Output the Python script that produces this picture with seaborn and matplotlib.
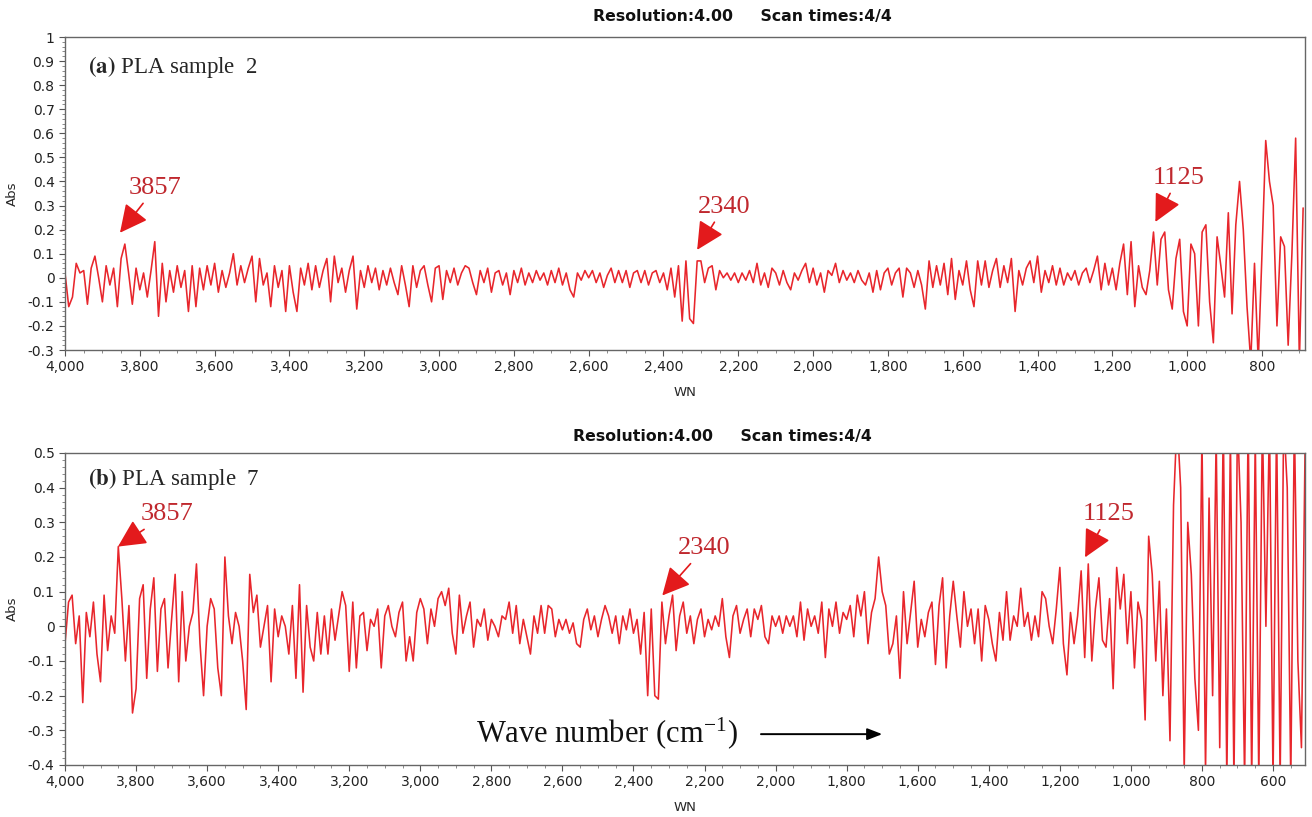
import numpy as np
import pandas as pd
import matplotlib
matplotlib.use("Agg")
import matplotlib.pyplot as plt
from matplotlib.ticker import FuncFormatter, MultipleLocator
import seaborn as sns

# ---------------- data (absorbance in units of 0.01 Abs) ----------------
wn_a = np.arange(4000, 689, -10)
abs_a_centi = [
    2, -12, -8, 6, 2, 3, -11, 4, 9, 0,
    -10, 5, -3, 4, -12, 8, 14, 2, -11, 4,
    -5, 2, -8, 3, 15, -16, 6, -10, 3, -6,
    5, -4, 3, -14, 5, -12, 4, -5, 5, -3,
    6, -6, 3, -4, 2, 10, -3, 5, -2, 4,
    9, -10, 8, -3, 2, -12, 5, -4, 3, -14,
    5, -6, -14, 4, -3, 6, -5, 5, -4, 3,
    8, -10, 9, -2, 4, -6, 3, 9, -13, 3,
    -4, 5, -2, 4, -5, 3, -3, 4, -2, -7,
    5, -3, -12, 5, -4, 3, 5, -3, -10, 4,
    5, -9, 3, -2, 4, -3, 2, 5, 4, -2,
    -7, 3, -2, 4, -6, 2, 3, -3, 2, -7,
    3, -2, 4, -3, 2, -2, 3, -1, 2, -3,
    3, -2, 4, -3, 2, -5, -8, 2, -1, 3,
    0, 3, -2, 2, -4, 1, 4, -2, 3, -2,
    3, -4, 2, 3, -2, 3, -3, 2, 3, -2,
    2, -5, 4, -8, 5, -18, 7, -17, -19, 7,
    7, -2, 4, 5, -5, 3, 0, 2, -1, 2,
    -2, 2, -1, 3, -2, 6, -3, 2, -4, 4,
    2, -3, 3, -2, -5, 2, -1, 3, 6, -2,
    4, -3, 2, -6, 3, 1, 6, -2, 3, -1,
    2, -2, 3, -1, -3, 2, -6, 3, -5, 2,
    4, -3, 2, 4, -8, 4, 2, -4, 3, -3,
    -13, 7, -4, 5, -3, 6, -7, 8, -9, 3,
    -3, 7, -5, -12, 7, -3, 7, -4, 3, 8,
    -4, 5, -2, 8, -14, 3, -3, 4, 7, -2,
    9, -6, 3, -2, 5, -3, 4, -3, 2, -1,
    3, -3, 2, 4, -2, 3, 9, -5, 6, -3,
    4, -5, 6, 14, -7, 15, -12, 5, -4, -7,
    3, 19, -3, 16, 19, -5, -13, 8, 16, -14,
    -20, 14, 10, -20, 19, 22, -10, -27, 17, 5,
    -8, 27, -15, 22, 40, 20, -12, -35, 6, -35,
    10, 57, 40, 30, -20, 17, 13, -28, 10, 58,
    -35, 29,
]

wn_b = np.arange(4000, 509, -10)
abs_b_centi = [
    -5, 7, 9, -5, 3, -22, 4, -3, 7, -8,
    -16, 9, -7, 3, -2, 23, 8, -10, 6, -25,
    -18, 8, 12, -15, 5, 14, -13, 5, 8, -12,
    2, 15, -16, 10, -10, 0, 4, 18, -5, -20,
    0, 8, 5, -12, -20, 20, 3, -5, 4, 0,
    -10, -24, 15, 4, 9, -6, 0, 6, -16, 5,
    -3, 3, 0, -8, 6, -15, 12, -19, 6, -6,
    -10, 4, -8, 3, -8, 5, -4, 3, 10, 6,
    -13, 7, -12, 3, 4, -7, 2, 0, 5, -12,
    3, 6, 0, -3, 4, 7, -10, -3, -10, 4,
    8, 5, -5, 5, 0, 8, 10, 6, 11, -2,
    -8, 9, -2, 3, 7, -6, 2, 0, 5, -4,
    2, 0, -3, 3, 2, 7, -2, 6, -5, 2,
    -3, -8, 3, -2, 6, -2, 6, 5, -3, 2,
    -1, 2, -2, 1, -5, -6, 2, 5, -1, 3,
    -3, 2, 6, 3, -2, 3, -5, 3, -1, 5,
    -2, 2, -8, 4, -20, 5, -20, -21, 7, -5,
    3, 9, -7, 3, 7, -2, 3, -5, 2, 5,
    -3, 2, -1, 3, 0, 8, -3, -9, 3, 6,
    -2, 2, 5, -3, 5, 2, 6, -3, -5, 3,
    0, 3, -2, 3, 0, 3, -3, 7, -4, 5,
    0, 3, -2, 7, -9, 5, 0, 7, -2, 4,
    2, 6, -3, 9, 3, 10, -5, 4, 8, 20,
    10, 6, -8, -5, 3, -15, 10, -5, 4, 13,
    -6, 2, -3, 4, 7, -11, 6, 14, -12, 3,
    13, 3, -6, 10, 0, 5, -5, 5, -10, 6,
    2, -5, -10, 4, -4, 10, -4, 3, 0, 11,
    0, 4, -4, 3, -3, 10, 8, 0, -5, 5,
    17, -5, -14, 4, -5, 3, 16, -9, 18, -10,
    5, 14, -4, -6, 8, -18, 17, 5, 15, -5,
    10, -12, 7, 2, -27, 26, 15, -10, 13, -20,
    5, -33, 35, 60, 40, -42, 30, 15, -15, -30,
    55, -42, 37, -20, 55, -35, 60, -45, 55, -45,
    60, 30, -45, 60, -45, 55, -45, 60, 0, 60,
    -45, 60, -45, 60, 40, -45, 60, -10, -35, 50,
]

df_a = pd.DataFrame({"WN": wn_a, "Abs": np.array(abs_a_centi) / 100.0})
df_b = pd.DataFrame({"WN": wn_b, "Abs": np.array(abs_b_centi) / 100.0})

header = "Resolution:4.00     Scan times:4/4"
peaks = ["3857", "2340", "1125"]

# ---------------- style ----------------
sns.set_style("ticks")
plt.rcParams["font.family"] = ["DejaVu Sans"]
plt.rcParams["axes.unicode_minus"] = False
plt.rcParams["mathtext.fontset"] = "stix"

W, H = 1312, 817
fig = plt.figure(figsize=(W / 100, H / 100), dpi=100)

def px_axes(l, t, r, b):
    return fig.add_axes([l / W, 1 - b / H, (r - l) / W, (b - t) / H])

ax_a = px_axes(65, 37, 1305, 350)
ax_b = px_axes(65, 453, 1305, 765)

line_col = "#e8262c"
for ax, df in ((ax_a, df_a), (ax_b, df_b)):
    sns.lineplot(data=df, x="WN", y="Abs", ax=ax, color=line_col,
                 linewidth=1.15, estimator=None, sort=False)
    ax.set_xlabel("WN", fontsize=9.5, labelpad=8)
    ax.set_ylabel("Abs", fontsize=9.5, labelpad=6)
    ax.xaxis.set_major_formatter(FuncFormatter(lambda v, p: f"{int(round(v)):,}"))
    ax.yaxis.set_major_formatter(FuncFormatter(lambda v, p: f"{round(v, 2):g}"))
    ax.xaxis.set_major_locator(MultipleLocator(200))
    ax.xaxis.set_minor_locator(MultipleLocator(50))
    ax.yaxis.set_major_locator(MultipleLocator(0.1))
    ax.yaxis.set_minor_locator(MultipleLocator(0.02))
    ax.tick_params(axis="both", which="major", labelsize=10, length=4,
                   color="#555555", width=0.8, labelcolor="#222222")
    ax.tick_params(axis="both", which="minor", length=2, color="#777777", width=0.6)
    for s in ax.spines.values():
        s.set_color("#666666")
        s.set_linewidth(1.0)

ax_a.set_xlim(4000, 685)
ax_a.set_ylim(-0.3, 1.0)
ax_b.set_xlim(4000, 510)
ax_b.set_ylim(-0.4, 0.5)

# headers
fig.text(742 / W, 1 - 17 / H, header, ha="center", va="center",
         fontsize=11.3, fontweight="bold", color="#111111")
fig.text(722 / W, 1 - 437 / H, header, ha="center", va="center",
         fontsize=11.3, fontweight="bold", color="#111111")

# panel labels
ax_a.text(0.0185, 0.905, r"$\mathbf{(a)}$ PLA sample  2", transform=ax_a.transAxes,
          fontsize=16.5, family="Liberation Serif", va="center", ha="left")
ax_b.text(0.0185, 0.918, r"$\mathbf{(b)}$ PLA sample  7", transform=ax_b.transAxes,
          fontsize=16.5, family="Liberation Serif", va="center", ha="left")

# peak annotations
text_col = "#c0282e"
arrow_col = "#e31a1c"
ann_a = [((3853, 0.187), (3759, 0.373)),
         ((2310, 0.116), (2238, 0.295)),
         ((1085, 0.232), (1024, 0.415))]
ann_b = [((3851, 0.230), (3713, 0.323)),
         ((2319, 0.089), (2201, 0.225)),
         ((1129, 0.199), (1064, 0.323))]
for ax, anns in ((ax_a, ann_a), (ax_b, ann_b)):
    for lab, (tip, txt) in zip(peaks, anns):
        ax.annotate(lab, xy=tip, xytext=txt, ha="center", va="center",
                    fontsize=19, family="Liberation Serif", color=text_col,
                    arrowprops=dict(arrowstyle="-|>,head_length=0.9,head_width=0.45",
                                    color=arrow_col, lw=1.2, shrinkA=1, shrinkB=0))

# wave number arrow text
ax_b.text(2474, -0.311, r"Wave number (cm$^{\mathregular{-1}}$)", ha="center", va="center",
          fontsize=22, family="Liberation Serif", color="#111111")
ax_b.annotate("", xy=(1692, -0.311), xytext=(2049, -0.311),
              arrowprops=dict(arrowstyle="-|>,head_length=0.9,head_width=0.35",
                              color="black", lw=1.4))

fig.savefig("out.png", dpi=100, facecolor="white")
